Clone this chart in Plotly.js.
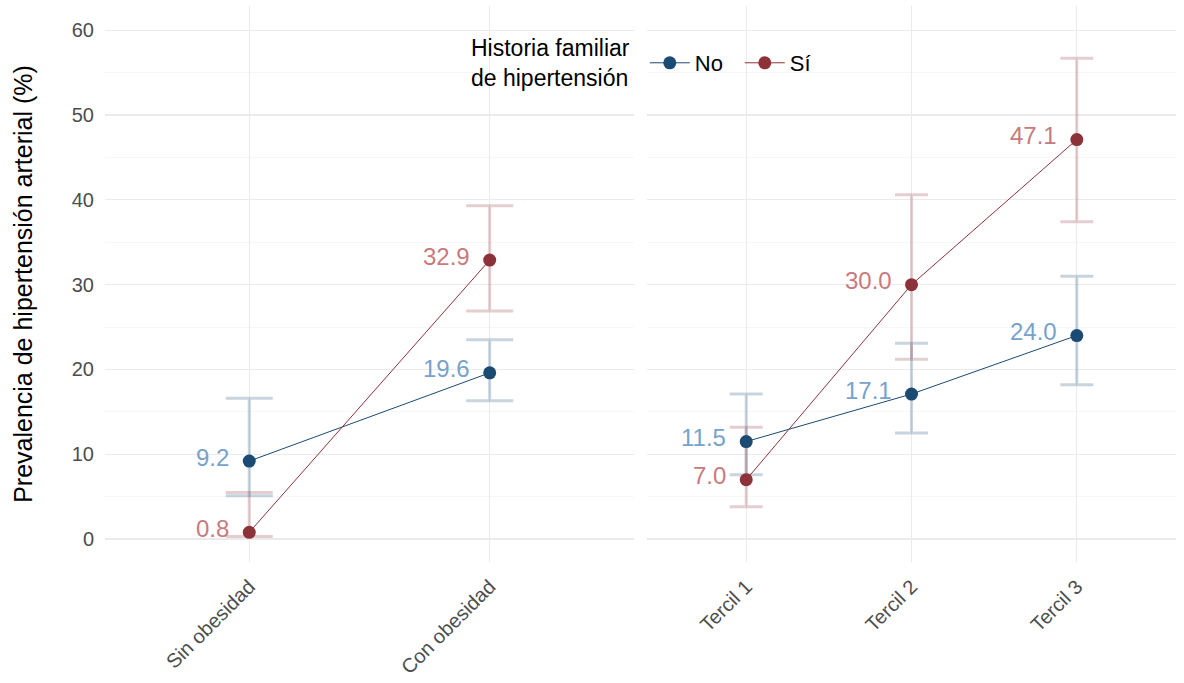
<!DOCTYPE html>
<html>
<head>
<meta charset="utf-8">
<script src="https://cdn.plot.ly/plotly-3.0.1.min.js"></script>
<style>
  html, body { margin: 0; padding: 0; background: #fff; }
  #chart { width: 1184px; height: 683px; }
</style>
</head>
<body>
<div id="chart"></div>
<script>
// Prevalence of arterial hypertension (%) by family history, two groupings
const obesityCategories = ["Sin obesidad", "Con obesidad"];
const tercileCategories = ["Tercil 1", "Tercil 2", "Tercil 3"];

const obesityNo = [9.2, 19.6];
const obesityNoLow = [5.1, 16.3];
const obesityNoHigh = [16.6, 23.5];

const obesitySi = [0.8, 32.9];
const obesitySiLow = [0.3, 26.9];
const obesitySiHigh = [5.5, 39.3];

const tercileNo = [11.5, 17.1, 24.0];
const tercileNoLow = [7.6, 12.5, 18.2];
const tercileNoHigh = [17.1, 23.1, 31.0];

const tercileSi = [7.0, 30.0, 47.1];
const tercileSiLow = [3.8, 21.2, 37.4];
const tercileSiHigh = [13.2, 40.6, 56.7];

const yTicks = [0, 10, 20, 30, 40, 50, 60];

const FONT = "Liberation Sans, Arial, sans-serif";
const BLUE = "#1B4A73";
const RED = "#8E323A";
const BLUE_BAR = "rgba(27,74,115,0.24)";
const RED_BAR = "rgba(142,50,58,0.24)";
const BLUE_TEXT = "#77A2CC";
const RED_TEXT = "#C97A7D";

function errTrace(cats, vals, low, high, color, halfWidth, xa, ya) {
  return {
    type: "scatter", mode: "markers", x: cats, y: vals,
    xaxis: xa, yaxis: ya, showlegend: false, hoverinfo: "skip",
    marker: { size: 1, opacity: 0 },
    error_y: {
      type: "data", symmetric: false,
      array: high.map((h, i) => h - vals[i]),
      arrayminus: vals.map((v, i) => v - low[i]),
      color: color, thickness: 3, width: halfWidth
    }
  };
}

function seriesTrace(cats, vals, color, name, showLegend, xa, ya) {
  return {
    type: "scatter", mode: "lines+markers", x: cats, y: vals,
    xaxis: xa, yaxis: ya, name: name, legendgroup: name,
    showlegend: showLegend,
    line: { color: color, width: 1 },
    marker: { color: color, size: 13 }
  };
}

const traces = [
  errTrace(obesityCategories, obesityNo, obesityNoLow, obesityNoHigh, BLUE_BAR, 23.5, "x", "y"),
  errTrace(obesityCategories, obesitySi, obesitySiLow, obesitySiHigh, RED_BAR, 23.5, "x", "y"),
  errTrace(tercileCategories, tercileNo, tercileNoLow, tercileNoHigh, BLUE_BAR, 16.5, "x2", "y2"),
  errTrace(tercileCategories, tercileSi, tercileSiLow, tercileSiHigh, RED_BAR, 16.5, "x2", "y2"),
  seriesTrace(obesityCategories, obesityNo, BLUE, "No", true, "x", "y"),
  seriesTrace(obesityCategories, obesitySi, RED, "Sí", true, "x", "y"),
  seriesTrace(tercileCategories, tercileNo, BLUE, "No", false, "x2", "y2"),
  seriesTrace(tercileCategories, tercileSi, RED, "Sí", false, "x2", "y2")
];

// Value labels to the left of each point
const annotations = [];
function addLabels(cats, vals, color, xa, ya) {
  cats.forEach((c, i) => {
    annotations.push({
      x: c, y: vals[i], xref: xa, yref: ya,
      text: vals[i].toFixed(1), showarrow: false,
      xanchor: "right", yanchor: "middle", xshift: -18, yshift: 4,
      font: { family: FONT, size: 24, color: color }
    });
  });
}
addLabels(obesityCategories, obesityNo, BLUE_TEXT, "x", "y");
addLabels(obesityCategories, obesitySi, RED_TEXT, "x", "y");
addLabels(tercileCategories, tercileNo, BLUE_TEXT, "x2", "y2");
addLabels(tercileCategories, tercileSi, RED_TEXT, "x2", "y2");

// Legend title, set beside the legend items
annotations.push({
  x: 0.3395, y: 0.8975, xref: "paper", yref: "paper",
  xanchor: "left", yanchor: "middle", align: "left", showarrow: false,
  text: "Historia familiar<br>de hipertensión",
  font: { family: FONT, size: 23, color: "#000" }
});

const grid = "#EBEBEB";
const xBase = {
  type: "category", showgrid: true, gridcolor: grid, gridwidth: 1.2,
  zeroline: false, showline: false, ticks: "", tickangle: -45, automargin: false,
  ticklabelstandoff: 8,
  tickfont: { family: FONT, size: 20, color: "#4D4D4D" }
};
const yBase = {
  range: [-2.7, 62.85], tickvals: yTicks, showgrid: true, automargin: false,
  gridcolor: grid, gridwidth: 1.2, zeroline: false, showline: false, ticks: "",
  minor: { dtick: 5, tick0: 5, showgrid: true, gridcolor: "#F3F3F3", gridwidth: 0.7 }
};

const layout = {
  width: 1184, height: 683,
  paper_bgcolor: "#fff", plot_bgcolor: "#fff",
  margin: { l: 105, r: 8, t: 6, b: 121 },
  font: { family: FONT, color: "#000" },
  xaxis: Object.assign({}, xBase, { domain: [0, 0.4939], range: [-0.6, 1.6], anchor: "y" }),
  xaxis2: Object.assign({}, xBase, { domain: [0.5061, 1], range: [-0.6, 2.6], anchor: "y2" }),
  yaxis: Object.assign({}, yBase, {
    anchor: "x", ticklabelstandoff: 10,
    tickfont: { family: FONT, size: 20, color: "#4D4D4D" },
    title: { text: "Prevalencia de hipertensión arterial (%)", standoff: 32,
             font: { family: FONT, size: 25, color: "#000" } }
  }),
  yaxis2: Object.assign({}, yBase, { anchor: "x2", matches: "y", showticklabels: false }),
  legend: {
    orientation: "h", x: 0.504, xanchor: "left", y: 0.8975, yanchor: "middle",
    bgcolor: "rgba(255,255,255,0)",
    font: { family: FONT, size: 22, color: "#000" },
    itemwidth: 40, entrywidth: 40, entrywidthmode: "pixels"
  },
  annotations: annotations,
  showlegend: true
};

Plotly.newPlot("chart", traces, layout, { displayModeBar: false, staticPlot: true });
</script>
</body>
</html>
